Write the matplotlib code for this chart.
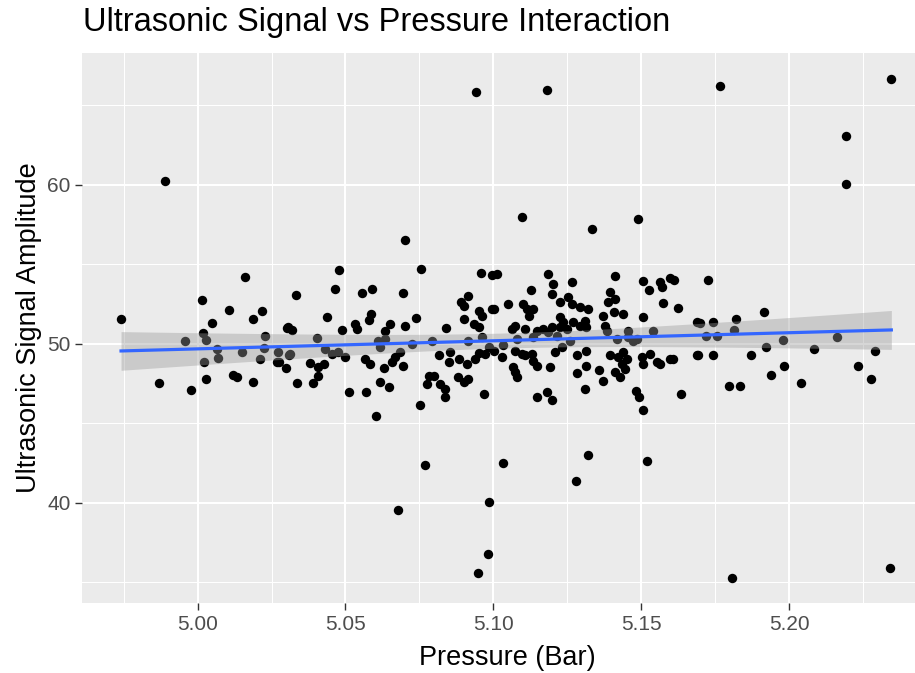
import numpy as np
import matplotlib
matplotlib.use("Agg")
import matplotlib.pyplot as plt

plt.rcParams['font.family'] = ['Liberation Sans', 'DejaVu Sans']

title = "Ultrasonic Signal vs Pressure Interaction"
x_label = "Pressure (Bar)"
y_label = "Ultrasonic Signal Amplitude"
x_ticks = [5.00, 5.05, 5.10, 5.15, 5.20]
x_tick_labels = ["5.00", "5.05", "5.10", "5.15", "5.20"]
y_ticks = [40, 50, 60]
y_tick_labels = ["40", "50", "60"]

pressure = [
    4.9741, 4.9869, 4.9977, 5.0014, 5.0106, 5.0159, 5.0049, 4.9958, 5.0017, 5.0028,
    5.0064, 5.0068, 5.0023, 5.0027, 5.0119, 5.0132, 5.0188, 5.0219, 5.0188, 5.0151,
    5.0210, 5.0229, 5.0226, 5.0272, 5.0267, 5.0276, 5.0301, 5.0299, 5.0310, 4.9890,
    5.0701, 5.0479, 5.0756, 5.0332, 5.0465, 5.0557, 5.0589, 5.0696, 5.0957, 5.0995,
    5.0437, 5.0585, 5.0579, 5.0532, 5.0538, 5.0488, 5.0651, 5.0634, 5.0701, 5.0738,
    5.0304, 5.0318, 5.0405, 5.0312, 5.0431, 5.0453, 5.0476, 5.0499, 5.0381, 5.0408,
    5.0428, 5.0408, 5.0391, 5.0335, 5.0511, 5.0571, 5.0567, 5.0583, 5.0609, 5.0617,
    5.0634, 5.0668, 5.0657, 5.0685, 5.0631, 5.0696, 5.0618, 5.0646, 5.0603, 5.0753,
    5.0725, 5.0793, 5.0839, 5.0815, 5.0855, 5.0849, 5.0883, 5.0781, 5.0798, 5.0776,
    5.0821, 5.0838, 5.0836, 5.0879, 5.0900, 5.0916, 5.0968, 5.0891, 5.0900, 5.0916,
    5.0950, 5.0961, 5.0900, 5.0934, 5.0950, 5.0995, 5.0916, 5.0961, 5.0984, 5.0911,
    5.0939, 5.0950, 5.0972,
    5.1333, 5.1014, 5.1185, 5.1411, 5.1506, 5.1564, 5.1570, 5.1597, 5.1612, 5.1527,
    5.1575, 5.1623, 5.1689, 5.1688, 5.1635, 5.1507, 5.1540, 5.1456, 5.1472, 5.1128,
    5.1197, 5.1203, 5.1267, 5.1395, 5.1412, 5.1389, 5.1254, 5.1265, 5.1293, 5.1226,
    5.1051, 5.1001, 5.1102, 5.1113, 5.1135, 5.1119, 5.1370, 5.1407, 5.1438, 5.1226,
    5.1237, 5.1226, 5.1249, 5.1271, 5.1310, 5.1315, 5.1293, 5.1062, 5.1073, 5.1108,
    5.1147, 5.1169, 5.1197, 5.1186, 5.1378, 5.1383, 5.1034, 5.1079, 5.1135, 5.1214,
    5.1260, 5.1001, 5.1028, 5.1073, 5.1096, 5.1108, 5.1130, 5.1135, 5.1147, 5.1067,
    5.1073, 5.1079, 5.1193, 5.1208, 5.1231, 5.1282, 5.1313, 5.1282, 5.1315, 5.1356,
    5.1370, 5.1309, 5.1147, 5.1183, 5.1197, 5.1395, 5.1423, 5.1439, 5.1451, 5.1434,
    5.1445, 5.1412, 5.1429, 5.1418, 5.1456, 5.1486, 5.1502, 5.1530, 5.1507, 5.1552,
    5.1564, 5.1597, 5.1608, 5.1483, 5.1494, 5.1506, 5.1321,
    5.1725, 5.1700, 5.1742, 5.1720, 5.1756, 5.1692, 5.1742, 5.1821, 5.1813, 5.1914,
    5.1873, 5.1922, 5.1979, 5.1940, 5.1982, 5.1798, 5.1835, 5.2042, 5.2083, 5.2163,
    5.2232, 5.2277, 5.2291,
    5.0942, 5.1182, 5.1767, 5.2346, 5.2191, 5.2194, 5.1097, 5.1489, 5.0678, 5.0769,
    5.0986, 5.1032, 5.0981, 5.0948, 5.1280, 5.1321, 5.1521, 5.1806, 5.2342,
]

amplitude = [
    51.57, 47.53, 47.07, 52.77, 52.16, 54.21, 51.30, 50.17, 50.67, 50.25,
    49.69, 49.10, 48.89, 47.78, 48.07, 47.94, 51.57, 52.08, 47.59, 49.48,
    49.06, 50.52, 49.77, 49.48, 48.89, 48.85, 50.99, 48.47, 49.31, 60.25,
    56.54, 54.63, 54.74, 53.10, 53.44, 53.19, 53.44, 53.19, 54.48, 54.36,
    51.72, 51.87, 51.53, 51.26, 50.94, 50.90, 51.26, 50.84, 51.13, 51.65,
    51.04, 50.88, 50.38, 49.35, 49.69, 49.37, 49.48, 49.16, 48.81, 48.53,
    48.74, 48.00, 47.55, 47.55, 47.00, 46.96, 49.06, 48.74, 50.21, 49.79,
    50.31, 49.16, 48.85, 49.48, 48.47, 48.60, 47.63, 47.28, 45.45, 46.16,
    50.00, 50.21, 50.99, 49.27, 49.48, 48.85, 49.06, 48.00, 48.00, 47.48,
    47.48, 47.17, 46.65, 47.90, 47.59, 47.80, 46.86, 52.66, 52.37, 53.04,
    52.09, 51.74, 51.57, 51.26, 51.05, 52.20, 50.21, 50.42, 49.79, 48.74,
    49.06, 49.43, 49.37,
    57.23, 54.40, 54.40, 54.30, 53.98, 53.88, 53.57, 54.13, 54.04, 53.36,
    52.58, 52.24, 51.36, 49.31, 46.86, 51.72, 50.84, 50.84, 50.21, 53.36,
    53.14, 53.77, 53.88, 53.29, 52.83, 52.66, 52.93, 52.52, 52.31, 52.66,
    52.52, 52.20, 52.52, 52.20, 52.20, 51.74, 51.74, 51.99, 51.89, 51.67,
    51.36, 51.05, 50.94, 51.36, 51.46, 51.05, 51.15, 50.94, 51.15, 50.94,
    50.84, 50.94, 51.05, 50.74, 51.15, 50.84, 49.90, 50.31, 50.42, 50.52,
    50.21, 49.58, 49.16, 49.58, 49.37, 49.27, 49.37, 48.95, 48.64, 48.53,
    48.22, 47.90, 48.57, 49.48, 49.79, 49.27, 49.58, 48.15, 48.64, 48.38,
    47.69, 47.17, 46.65, 46.96, 46.48, 49.27, 49.16, 49.48, 49.06, 48.74,
    48.43, 48.22, 47.94, 50.31, 50.42, 50.31, 49.16, 49.37, 48.74, 48.85,
    48.74, 49.06, 49.06, 47.02, 46.65, 45.87, 52.20,
    54.04, 51.30, 51.40, 50.52, 50.52, 49.33, 49.33, 51.57, 50.90, 51.99,
    49.33, 49.83, 50.27, 48.05, 48.64, 47.36, 47.36, 47.53, 49.69, 50.42,
    48.64, 47.78, 49.58,
    65.85, 65.97, 66.23, 66.67, 63.06, 60.04, 57.99, 57.86, 39.56, 42.39,
    40.04, 42.50, 36.80, 35.60, 41.35, 43.00, 42.64, 35.26, 35.93,
]

x = np.array(pressure)
y = np.array(amplitude)

# linear model fit with 95% confidence band (like geom_smooth(method="lm"))
n = len(x)
slope, intercept = np.polyfit(x, y, 1)
xs = np.linspace(x.min(), x.max(), 80)
ys = intercept + slope * xs
resid = y - (intercept + slope * x)
s = np.sqrt(np.sum(resid ** 2) / (n - 2))
sxx = np.sum((x - x.mean()) ** 2)
se = s * np.sqrt(1.0 / n + (xs - x.mean()) ** 2 / sxx)
tval = 1.969
lo, hi = ys - tval * se, ys + tval * se

fig = plt.figure(figsize=(9.15, 6.73), dpi=100)
ax = fig.add_axes([82.3 / 915, 1 - 603 / 673, 1 - 82.3 / 915, (603 - 53) / 673])
ax.set_facecolor('#EBEBEB')
for sp in ax.spines.values():
    sp.set_visible(False)

ax.set_xlim(4.961, 5.2426)
ax.set_ylim(33.7, 68.3)
ax.set_xticks(x_ticks)
ax.set_xticklabels(x_tick_labels)
ax.set_yticks(y_ticks)
ax.set_yticklabels(y_tick_labels)
ax.set_xticks([4.975, 5.025, 5.075, 5.125, 5.175, 5.225], minor=True)
ax.set_yticks([35, 45, 55, 65], minor=True)
ax.grid(which='major', color='white', linewidth=1.5)
ax.grid(which='minor', color='white', linewidth=0.75)
ax.set_axisbelow(True)
ax.tick_params(which='major', length=4.8, width=1.0, color='#333333',
               labelcolor='#4D4D4D', labelsize=15, pad=3.5)
ax.tick_params(which='minor', length=0)

ax.scatter(x, y, s=46, color='black', linewidths=0, zorder=3)
ax.fill_between(xs, lo, hi, color='#999999', alpha=0.4, linewidth=0, zorder=4)
ax.plot(xs, ys, color='#3366FF', linewidth=2.3, zorder=5)

fig.text(83 / 915, 1 - 22 / 673, title, fontsize=23.5, ha='left', va='center', color='black')
fig.text(507 / 915, 1 - 658 / 673, x_label, fontsize=19.5, ha='center', va='center', color='black')
fig.text(29 / 915, 1 - 328 / 673, y_label, fontsize=19.5, ha='center', va='center',
         rotation=90, color='black')

fig.savefig('out.png', dpi=100)
